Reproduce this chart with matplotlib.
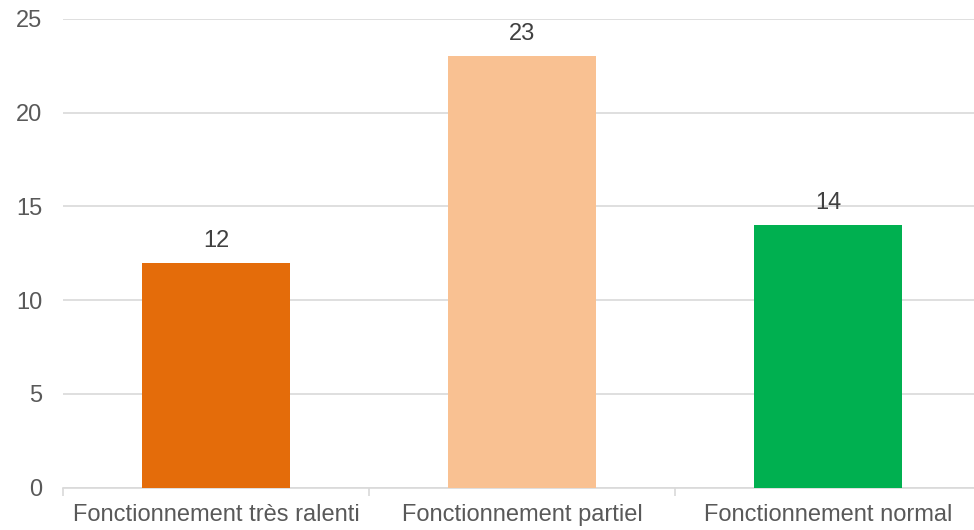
import matplotlib
matplotlib.use("Agg")
import matplotlib.pyplot as plt

categories = ["Fonctionnement très ralenti", "Fonctionnement partiel", "Fonctionnement normal"]
values = [12, 23, 14]
colors = ["#E46C0A", "#F9C192", "#00B050"]

plt.rcParams["font.family"] = ["Liberation Sans", "DejaVu Sans"]

fig = plt.figure(figsize=(9.74, 5.30), dpi=100)
# plot area runs a little past the right edge of the image, as in the reference
ax = fig.add_axes([63 / 974, 42.5 / 530, 918 / 974, 468.5 / 530])

x = list(range(len(categories)))
bars = ax.bar(x, values, width=0.486, color=colors, zorder=3)

for b, v in zip(bars, values):
    ax.annotate(str(v), (b.get_x() + b.get_width() / 2, v), xytext=(0, 8),
                textcoords="offset points", ha="center", va="bottom",
                fontsize=17, color="#404040")

ax.set_xlim(-0.5, len(categories) - 0.5)
ax.set_ylim(0, 25)
ax.set_yticks([0, 5, 10, 15, 20, 25])
ax.yaxis.grid(True, color="#D9D9D9", linewidth=1.2, zorder=0)

for s in ["top", "right", "left"]:
    ax.spines[s].set_visible(False)
ax.spines["bottom"].set_color("#D9D9D9")
ax.spines["bottom"].set_linewidth(1.2)

ax.set_xticks(x)
ax.set_xticklabels(categories)
ax.set_xticks([-0.5, 0.5, 1.5, 2.5], minor=True)
ax.tick_params(axis="x", which="major", length=0, pad=12, labelsize=17, labelcolor="#595959")
ax.tick_params(axis="x", which="minor", length=6, width=1.2, color="#D9D9D9")
ax.tick_params(axis="y", length=0, pad=15, labelsize=17, labelcolor="#595959")

fig.savefig("out.png", dpi=100)
